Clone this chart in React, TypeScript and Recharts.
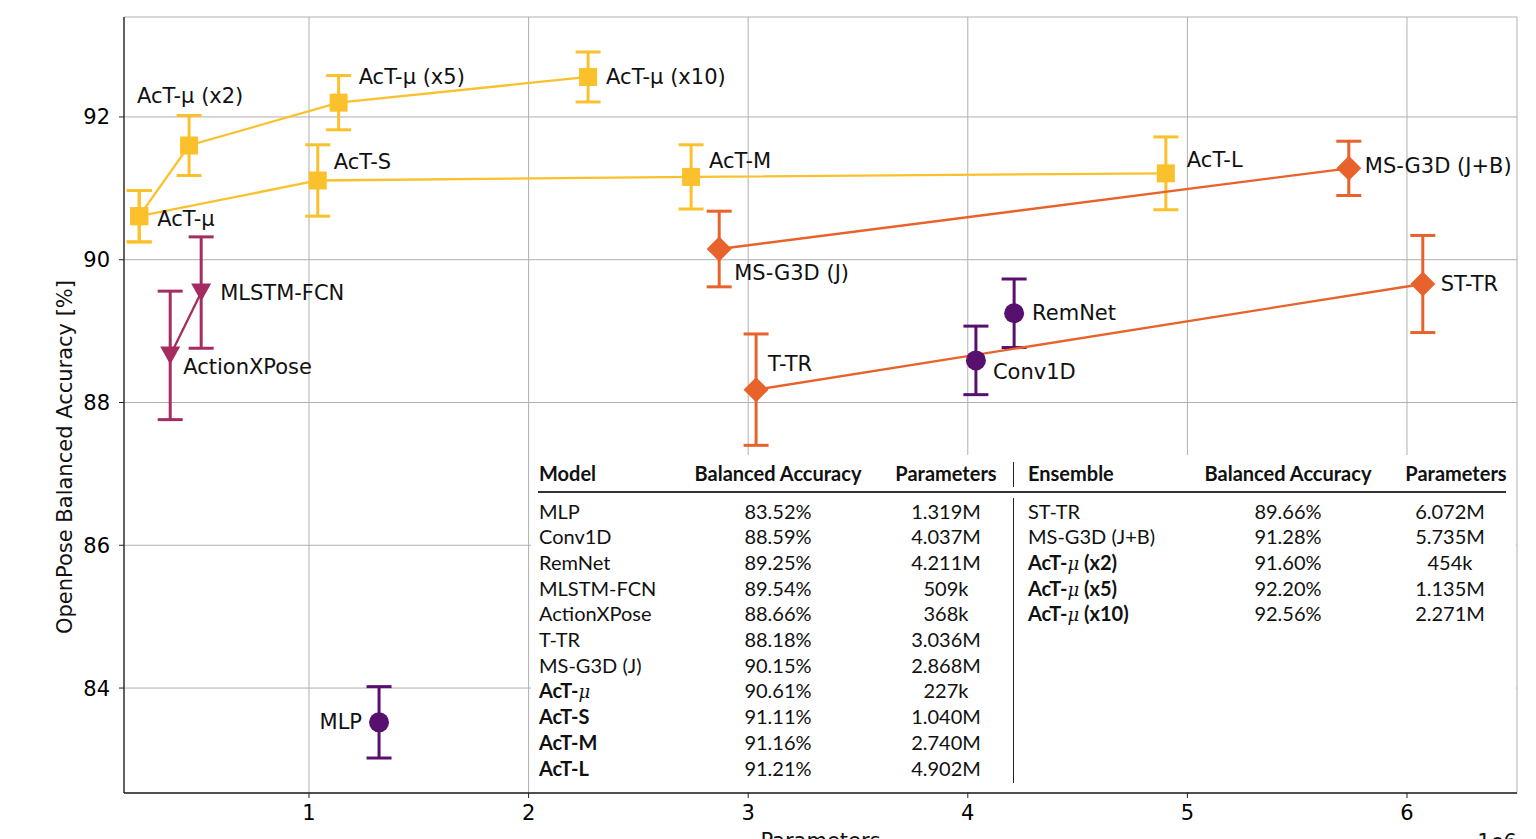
import React from "react";
import { ScatterChart, Scatter, XAxis, YAxis, CartesianGrid, ErrorBar } from "recharts";

// single models (left half of the inset table)
const models = ["MLP", "Conv1D", "RemNet", "MLSTM-FCN", "ActionXPose", "T-TR", "MS-G3D (J)", "AcT-μ", "AcT-S", "AcT-M", "AcT-L"];
const modelParams = [1319000, 4037000, 4211000, 509000, 368000, 3036000, 2868000, 227000, 1040000, 2740000, 4902000];
const modelAccuracy = [83.52, 88.59, 89.25, 89.54, 88.66, 88.18, 90.15, 90.61, 91.11, 91.16, 91.21];
const modelError = [0.5, 0.48, 0.48, 0.78, 0.9, 0.78, 0.53, 0.36, 0.5, 0.45, 0.51];

// ensembles (right half of the inset table)
const ensembles = ["ST-TR", "MS-G3D (J+B)", "AcT-μ (x2)", "AcT-μ (x5)", "AcT-μ (x10)"];
const ensembleParams = [6072000, 5735000, 454000, 1135000, 2271000];
const ensembleAccuracy = [89.66, 91.28, 91.6, 92.2, 92.56];
const ensembleError = [0.68, 0.38, 0.42, 0.38, 0.35];

// which points are joined together
const actScaling = ["AcT-μ", "AcT-S", "AcT-M", "AcT-L"];
const actEnsembles = ["AcT-μ", "AcT-μ (x2)", "AcT-μ (x5)", "AcT-μ (x10)"];
const msg3d = ["MS-G3D (J)", "MS-G3D (J+B)"];
const transformers = ["T-TR", "ST-TR"];
const poseModels = ["ActionXPose", "MLSTM-FCN"];
const baselines = ["MLP", "Conv1D", "RemNet"];

const xTicks = [1000000, 2000000, 3000000, 4000000, 5000000, 6000000];
const yTicks = [84, 86, 88, 90, 92];

const YELLOW = "#fac12c";
const ORANGE = "#e8622c";
const CRIMSON = "#a52c60";
const PURPLE = "#58106e";
const FONT = "'DejaVu Sans', sans-serif";
const TABLE_FONT = "Lato, 'Noto Sans', sans-serif";

// where each annotation sits relative to its marker
const labelPos: Record<string, [number, number, "start" | "end"]> = {
  MLP: [-17, 0, "end"],
  Conv1D: [17, 12, "start"],
  RemNet: [18, 0, "start"],
  "MLSTM-FCN": [19, 0, "start"],
  ActionXPose: [13, 12, "start"],
  "T-TR": [12, -26, "start"],
  "MS-G3D (J)": [15, 24, "start"],
  "AcT-μ": [18, 3, "start"],
  "AcT-S": [16, -18, "start"],
  "AcT-M": [18, -16, "start"],
  "AcT-L": [21, -13, "start"],
  "ST-TR": [18, 0, "start"],
  "MS-G3D (J+B)": [16, -2, "start"],
  "AcT-μ (x2)": [-52, -50, "start"],
  "AcT-μ (x5)": [20, -26, "start"],
  "AcT-μ (x10)": [18, 0, "start"],
};

const allNames = [...models, ...ensembles];
const allParams = [...modelParams, ...ensembleParams];
const allAccuracy = [...modelAccuracy, ...ensembleAccuracy];
const allError = [...modelError, ...ensembleError];

const point = (name: string) => {
  const i = allNames.indexOf(name);
  return { name, x: allParams[i], y: allAccuracy[i], err: allError[i] };
};

const series = [
  { key: "scaling", members: actScaling, color: YELLOW, marker: "square", line: true },
  { key: "ensembles", members: actEnsembles, color: YELLOW, marker: "square", line: true },
  { key: "msg3d", members: msg3d, color: ORANGE, marker: "diamond", line: true },
  { key: "tr", members: transformers, color: ORANGE, marker: "diamond", line: true },
  { key: "pose", members: poseModels, color: CRIMSON, marker: "triangle", line: true },
  { key: "base", members: baselines, color: PURPLE, marker: "circle", line: false },
];

const makeMarker = (kind: string, color: string) => (props: any) => {
  const { cx, cy } = props;
  if (cx == null || cy == null) return <g />;
  if (kind === "square") return <rect x={cx - 9} y={cy - 9} width={18} height={18} fill={color} />;
  if (kind === "diamond")
    return <polygon points={`${cx},${cy - 12.5} ${cx + 12.5},${cy} ${cx},${cy + 12.5} ${cx - 12.5},${cy}`} fill={color} />;
  if (kind === "triangle")
    return <polygon points={`${cx - 10},${cy - 9} ${cx + 10},${cy - 9} ${cx},${cy + 9}`} fill={color} />;
  return <circle cx={cx} cy={cy} r={10} fill={color} />;
};

const LabelShape = (props: any) => {
  const { cx, cy, payload } = props;
  const [dx, dy, anchor] = labelPos[payload.name] || [15, 0, "start"];
  return (
    <text x={cx + dx} y={cy + dy} textAnchor={anchor} dominantBaseline="central" fontFamily={FONT} fontSize={21} fill="#111">
      {payload.name}
    </text>
  );
};

const renderName = (name: string) => {
  if (!name.startsWith("AcT")) return name;
  if (!name.includes("μ")) return <b>{name}</b>;
  const [before, after] = name.split("μ");
  return (
    <>
      <b>{before}</b>
      <i style={{ fontFamily: "'DejaVu Serif', serif", fontSize: 18 }}>μ</i>
      <b>{after}</b>
    </>
  );
};

const fmtParams = (p: number) => (p < 1000000 ? `${Math.round(p / 1000)}k` : `${(p / 1000000).toFixed(3)}M`);

const cell = (x: number, y: number, align: "left" | "center", content: React.ReactNode, bold = false, key?: string) => (
  <div
    key={key}
    style={{
      position: "absolute",
      left: align === "left" ? x : x - 110,
      width: align === "left" ? 240 : 220,
      top: y - 12,
      lineHeight: "24px",
      textAlign: align,
      fontWeight: bold ? 700 : 400,
      whiteSpace: "nowrap",
    }}
  >
    {content}
  </div>
);

function InsetTable() {
  const row0 = 510.5;
  const step = 25.7;
  return (
    <div
      style={{
        position: "absolute",
        left: 531,
        top: 455,
        width: 985,
        height: 337,
        background: "#fff",
      }}
    >
      <div style={{ position: "absolute", left: -531, top: -455, fontFamily: TABLE_FONT, fontSize: 20, color: "#111" }}>
        {cell(539, 473, "left", "Model", true, "h1")}
        {cell(778, 473, "center", "Balanced Accuracy", true, "h2")}
        {cell(946, 473, "center", "Parameters", true, "h3")}
        {cell(1028, 473, "left", "Ensemble", true, "h4")}
        {cell(1288, 473, "center", "Balanced Accuracy", true, "h5")}
        {cell(1456, 473, "center", "Parameters", true, "h6")}
        <div style={{ position: "absolute", left: 538, top: 491, width: 968, height: 1.5, background: "#333" }} />
        <div style={{ position: "absolute", left: 1012.5, top: 462, width: 1.5, height: 25, background: "#222" }} />
        <div style={{ position: "absolute", left: 1012.5, top: 498, width: 1.5, height: 285, background: "#222" }} />
        {models.map((m, i) => (
          <React.Fragment key={m}>
            {cell(539, row0 + i * step, "left", renderName(m))}
            {cell(778, row0 + i * step, "center", `${modelAccuracy[i].toFixed(2)}%`)}
            {cell(946, row0 + i * step, "center", fmtParams(modelParams[i]))}
          </React.Fragment>
        ))}
        {ensembles.map((m, i) => (
          <React.Fragment key={m}>
            {cell(1028, row0 + i * step, "left", renderName(m))}
            {cell(1288, row0 + i * step, "center", `${ensembleAccuracy[i].toFixed(2)}%`)}
            {cell(1450, row0 + i * step, "center", fmtParams(ensembleParams[i]))}
          </React.Fragment>
        ))}
      </div>
    </div>
  );
}

const xDomain: [number, number] = [157600, 6501000];
const yDomain: [number, number] = [82.53, 93.4];

export default function App() {
  const labelData = allNames.map(point);
  return (
    <div style={{ position: "absolute", left: 0, top: 0, width: 1536, height: 839, overflow: "hidden", background: "#fff" }}>
      <ScatterChart width={1536} height={839} margin={{ top: 17, right: 19, bottom: 0, left: 0 }}>
        <CartesianGrid stroke="#b0b0b0" strokeWidth={1} />
        <XAxis
          type="number"
          dataKey="x"
          domain={xDomain}
          ticks={xTicks}
          allowDataOverflow
          height={46}
          tickFormatter={(v: number) => `${v / 1000000}`}
          tick={{ fill: "#000", fontSize: 21, fontFamily: FONT }}
          tickSize={5}
          tickMargin={7}
          axisLine={{ stroke: "#222", strokeWidth: 1.3 }}
          tickLine={{ stroke: "#222" }}
          label={{
            content: (p: any) => {
              const vb = p.viewBox || { x: 124, y: 793, width: 1393 };
              return (
                <g fontFamily={FONT} fontSize={21} fill="#111">
                  <text x={vb.x + vb.width / 2} y={848} textAnchor="middle">Parameters</text>
                  <text x={vb.x + vb.width} y={849} textAnchor="end">1e6</text>
                </g>
              );
            },
          }}
        />
        <YAxis
          type="number"
          dataKey="y"
          domain={yDomain}
          ticks={yTicks}
          allowDataOverflow
          width={124}
          tick={{ fill: "#000", fontSize: 21, fontFamily: FONT }}
          tickSize={5}
          tickMargin={9}
          axisLine={{ stroke: "#222", strokeWidth: 1.3 }}
          tickLine={{ stroke: "#222" }}
          label={{
            content: () => (
              <text
                x={65}
                y={457}
                transform="rotate(-90, 65, 457)"
                textAnchor="middle"
                dominantBaseline="central"
                fontFamily={FONT}
                fontSize={21}
                fill="#111"
              >
                OpenPose Balanced Accuracy [%]
              </text>
            ),
          }}
        />
        <XAxis xAxisId="top" orientation="top" type="number" domain={xDomain} height={0} tick={false} tickLine={false} axisLine={{ stroke: "#222", strokeWidth: 1.3 }} />
        <YAxis yAxisId="right" orientation="right" type="number" domain={yDomain} width={0} tick={false} tickLine={false} axisLine={{ stroke: "#222", strokeWidth: 1.3 }} />
        {series.map((s) => (
          <Scatter
            key={s.key}
            data={s.members.map(point)}
            fill={s.color}
            line={s.line ? { stroke: s.color, strokeWidth: 2.3 } : false}
            lineType="joint"
            shape={makeMarker(s.marker, s.color)}
            isAnimationActive={false}
          >
            <ErrorBar dataKey="err" direction="y" width={12.5} stroke={s.color} strokeWidth={3} isAnimationActive={false} />
          </Scatter>
        ))}
        <Scatter data={labelData} fill="none" shape={LabelShape} isAnimationActive={false} />
      </ScatterChart>
      <InsetTable />
    </div>
  );
}
